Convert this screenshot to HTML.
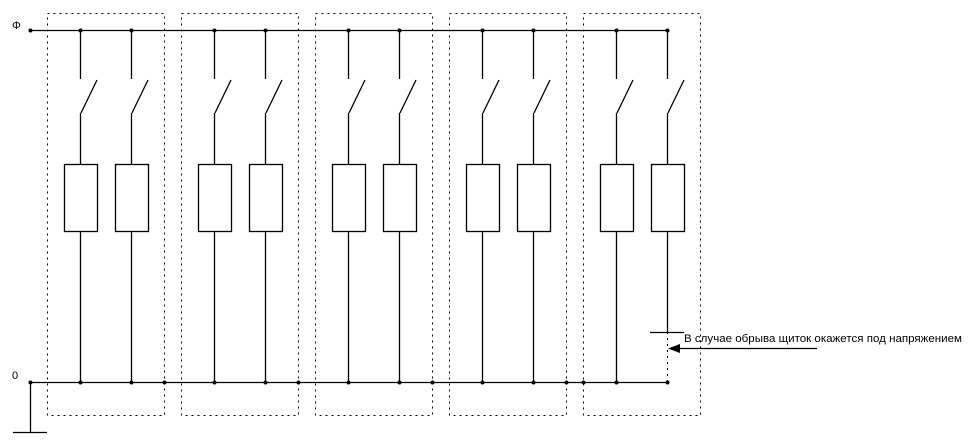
<!DOCTYPE html>
<html><head><meta charset="utf-8"><style>html,body{margin:0;padding:0;background:#fff}svg{display:block}</style></head>
<body>
<svg width="979" height="445" xmlns="http://www.w3.org/2000/svg" font-family="Liberation Sans, DejaVu Sans, sans-serif">
<defs>
<g id="col" stroke="#000" stroke-width="1.3" fill="none">
<line x1="0.5" y1="30" x2="0.5" y2="79"/>
<line x1="17" y1="80" x2="1" y2="113"/>
<line x1="0.5" y1="113" x2="0.5" y2="164"/>
<rect x="-15.5" y="164.5" width="33" height="67"/>
</g>
</defs>
<g fill="none" stroke="#000" stroke-width="1" stroke-dasharray="2,4">
<rect x="47.5" y="13.5" width="117" height="402"/>
<rect x="181.5" y="13.5" width="117" height="402"/>
<rect x="315.5" y="13.5" width="117" height="402"/>
<rect x="449.5" y="13.5" width="117" height="402"/>
<rect x="583.5" y="13.5" width="117" height="402"/>
<line x1="667.5" y1="332" x2="667.5" y2="382"/>
</g>
<g stroke="#000" stroke-width="1.3" fill="none">
<line x1="30" y1="30.5" x2="667" y2="30.5"/>
<line x1="30" y1="382.5" x2="667" y2="382.5"/>
<line x1="30.5" y1="382" x2="30.5" y2="432"/>
<line x1="13" y1="432.5" x2="47" y2="432.5"/>
<line x1="650" y1="332.5" x2="684" y2="332.5"/>
<line x1="676" y1="348.5" x2="817" y2="348.5"/>
<line x1="80.5" y1="231" x2="80.5" y2="382"/>
<line x1="131.5" y1="231" x2="131.5" y2="382"/>
<line x1="214.5" y1="231" x2="214.5" y2="382"/>
<line x1="265.5" y1="231" x2="265.5" y2="382"/>
<line x1="348.5" y1="231" x2="348.5" y2="382"/>
<line x1="399.5" y1="231" x2="399.5" y2="382"/>
<line x1="482.5" y1="231" x2="482.5" y2="382"/>
<line x1="533.5" y1="231" x2="533.5" y2="382"/>
<line x1="616.5" y1="231" x2="616.5" y2="382"/>
<line x1="667.5" y1="231" x2="667.5" y2="332"/>
</g>
<use href="#col" x="80"/><use href="#col" x="131"/>
<use href="#col" x="214"/><use href="#col" x="265"/>
<use href="#col" x="348"/><use href="#col" x="399"/>
<use href="#col" x="482"/><use href="#col" x="533"/>
<use href="#col" x="616"/><use href="#col" x="667"/>
<g fill="#000">
<circle cx="30.5" cy="30.5" r="2"/><circle cx="80.5" cy="30.5" r="2"/><circle cx="131.5" cy="30.5" r="2"/>
<circle cx="214.5" cy="30.5" r="2"/><circle cx="265.5" cy="30.5" r="2"/><circle cx="348.5" cy="30.5" r="2"/>
<circle cx="399.5" cy="30.5" r="2"/><circle cx="482.5" cy="30.5" r="2"/><circle cx="533.5" cy="30.5" r="2"/>
<circle cx="616.5" cy="30.5" r="2"/><circle cx="667.5" cy="30.5" r="2"/>
<circle cx="30.5" cy="382.5" r="2"/><circle cx="80.5" cy="382.5" r="2"/><circle cx="131.5" cy="382.5" r="2"/>
<circle cx="164.5" cy="382.5" r="2"/><circle cx="214.5" cy="382.5" r="2"/><circle cx="265.5" cy="382.5" r="2"/>
<circle cx="298.5" cy="382.5" r="2"/><circle cx="348.5" cy="382.5" r="2"/><circle cx="399.5" cy="382.5" r="2"/>
<circle cx="432.5" cy="382.5" r="2"/><circle cx="482.5" cy="382.5" r="2"/><circle cx="533.5" cy="382.5" r="2"/>
<circle cx="566.5" cy="382.5" r="2"/><circle cx="583.5" cy="382.5" r="2"/><circle cx="616.5" cy="382.5" r="2"/>
<circle cx="667.5" cy="382.5" r="2"/>
</g>
<polygon points="668,348.5 680,344 680,353" fill="#000"/>
<text x="12" y="29" font-size="11">Φ</text>
<text x="12" y="379" font-size="11">0</text>
<text x="684" y="342" font-size="11" textLength="278" lengthAdjust="spacingAndGlyphs">В случае обрыва щиток окажется под напряжением</text>
</svg>
</body></html>
